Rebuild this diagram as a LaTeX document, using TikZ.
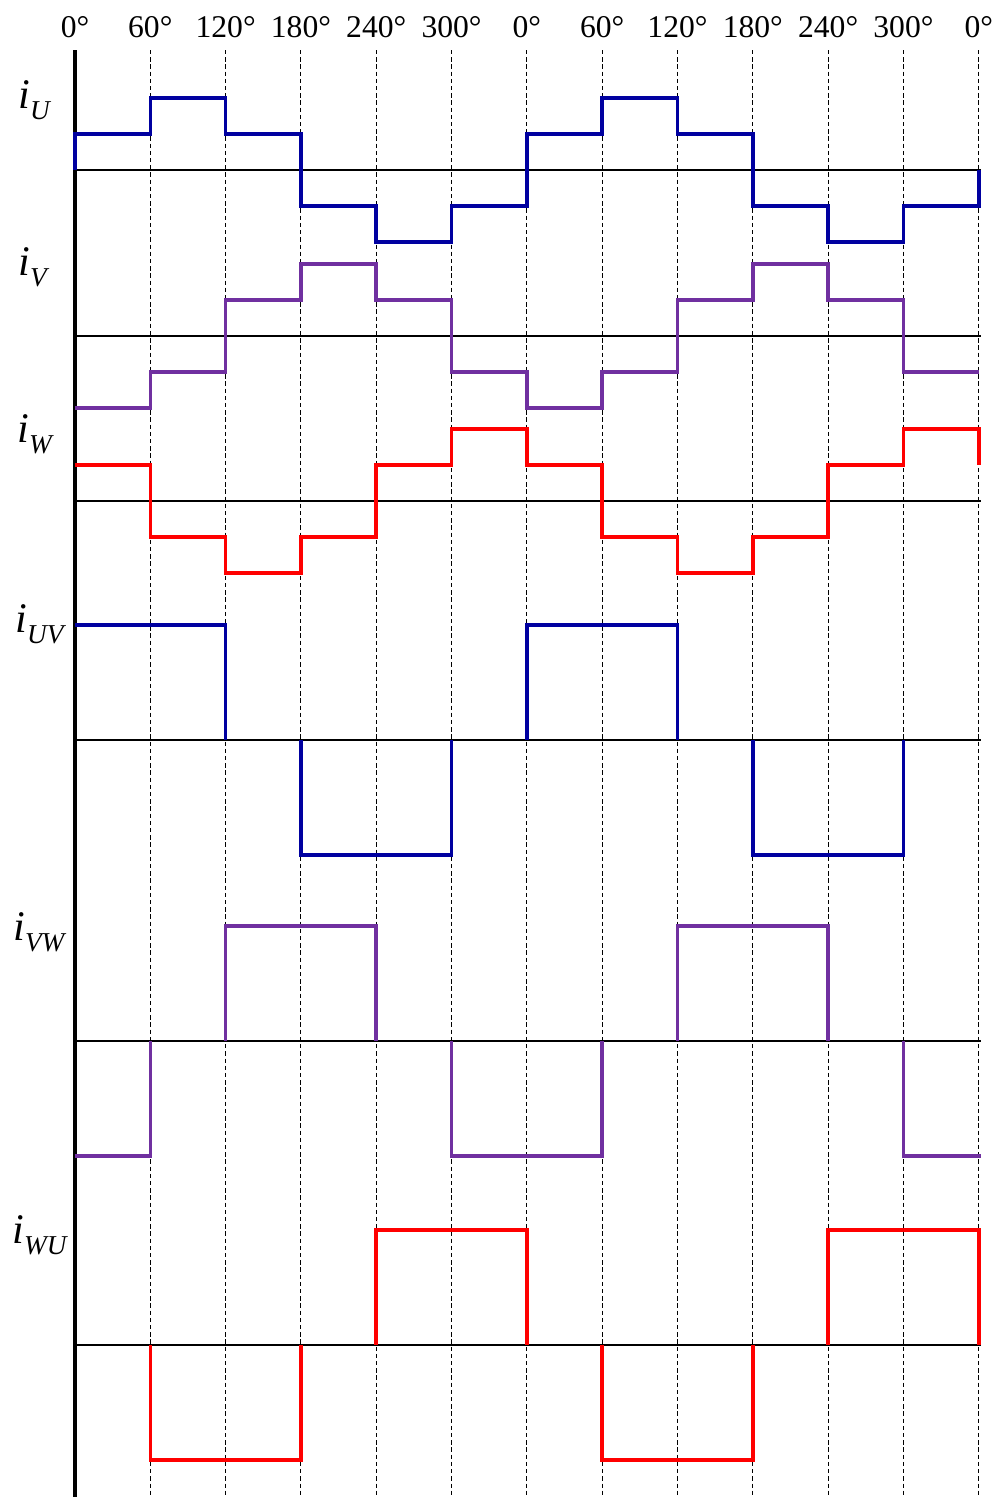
\documentclass[tikz,border=0pt]{standalone}
\usepackage{fontspec}
\setmainfont{Liberation Serif}

\definecolor{phaseU}{RGB}{0,0,160}
\definecolor{phaseV}{RGB}{112,48,160}
\definecolor{phaseW}{RGB}{255,0,0}

\newcommand{\curlbl}[1]{\textit{i}\raisebox{-0.28em}{\fontsize{15.5}{16}\selectfont\textit{#1}}}

\begin{document}
\begin{tikzpicture}[x=1.5066cm, y=-0.02cm,
    wave/.style={line width=2pt},
    zero/.style={line width=1.2pt},
    grid/.style={dash pattern=on 2.5pt off 1.6pt, line width=0.55pt},
    deg/.style={font=\fontsize{18}{20}\selectfont, anchor=base, inner sep=0pt},
    lbl/.style={font=\fontsize{24}{26}\selectfont, anchor=base west, inner sep=0pt}]

    \useasboundingbox (-0.9956,0) rectangle (12.3186,1499);

    %% Six-step phase currents and line currents

    % Angle grid
    \foreach \k in {1,...,12}
        \draw[grid] (\k,50) -- (\k,1497);
    \foreach \ang [count=\k from 0] in {0,60,120,180,240,300,0,60,120,180,240,300,0}
        \node[deg] (deg\k) at (\k,37) {\ang°};

    % Axes
    \draw[line width=1.9pt] (0,50) -- (0,1497);
    \foreach \y in {170,336,501,740,1041,1345}
        \draw[zero] (0,\y) -- (12.03,\y);

    % Labels
    \node[lbl] (labU)  at (-0.757,108)  {\curlbl{U}};
    \node[lbl] (labV)  at (-0.757,275)  {\curlbl{V}};
    \node[lbl] (labW)  at (-0.770,442)  {\curlbl{W}};
    \node[lbl] (labUV) at (-0.796,632)  {\curlbl{UV}};
    \node[lbl] (labVW) at (-0.823,940)  {\curlbl{VW}};
    \node[lbl] (labWU) at (-0.836,1243) {\curlbl{WU}};

    % Phase currents
    \draw[wave, phaseU] (0,170)
        \foreach \v [count=\k from 0] in {1,2,1,-1,-2,-1,1,2,1,-1,-2,-1}
            { -- (\k,170-36*\v) -- (\k+1,170-36*\v) } -- (12,170);
    \draw[wave, phaseV] (0,408)
        \foreach \v [count=\k from 0] in {-2,-1,1,2,1,-1,-2,-1,1,2,1,-1}
            { -- (\k,336-36*\v) -- (\k+1,336-36*\v) };
    \draw[wave, phaseW] (0,465)
        \foreach \v [count=\k from 0] in {1,-1,-2,-1,1,2,1,-1,-2,-1,1,2}
            { -- (\k,501-36*\v) -- (\k+1,501-36*\v) } -- (12,465);

    % Line currents
    \draw[wave, phaseU] (0,625) -- (2,625) -- (2,740);
    \draw[wave, phaseU] (3,740) -- (3,855) -- (5,855) -- (5,740);
    \draw[wave, phaseU] (6,740) -- (6,625) -- (8,625) -- (8,740);
    \draw[wave, phaseU] (9,740) -- (9,855) -- (11,855) -- (11,740);

    \draw[wave, phaseV] (0,1156) -- (1,1156) -- (1,1041);
    \draw[wave, phaseV] (2,1041) -- (2,926) -- (4,926) -- (4,1041);
    \draw[wave, phaseV] (5,1041) -- (5,1156) -- (7,1156) -- (7,1041);
    \draw[wave, phaseV] (8,1041) -- (8,926) -- (10,926) -- (10,1041);
    \draw[wave, phaseV] (11,1041) -- (11,1156) -- (12.03,1156);

    \draw[wave, phaseW] (1,1345) -- (1,1460) -- (3,1460) -- (3,1345);
    \draw[wave, phaseW] (4,1345) -- (4,1230) -- (6,1230) -- (6,1345);
    \draw[wave, phaseW] (7,1345) -- (7,1460) -- (9,1460) -- (9,1345);
    \draw[wave, phaseW] (10,1345) -- (10,1230) -- (12,1230) -- (12,1345);

\end{tikzpicture}
\end{document}
